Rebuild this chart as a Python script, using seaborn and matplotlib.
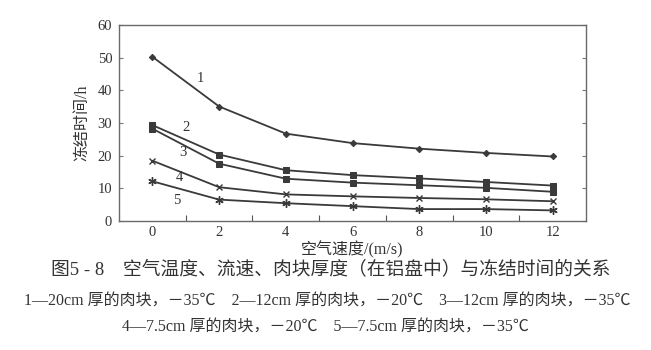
import numpy as np
import pandas as pd
import seaborn as sns
import matplotlib.pyplot as plt
from matplotlib.ticker import FixedLocator

sns.set_style("white")
plt.rcParams['font.family'] = ['Liberation Serif', 'Noto Sans CJK SC']
plt.rcParams['axes.unicode_minus'] = False

# air speed (m/s)
speed = [0, 2, 4, 6, 8, 10, 12]
# freezing time (h) for each case
t1 = [50.2, 35.0, 26.7, 23.8, 22.1, 20.8, 19.7]
t2 = [29.3, 20.3, 15.5, 14.0, 13.0, 11.9, 10.8]
t3 = [28.2, 17.5, 12.9, 11.7, 10.9, 10.1, 8.9]
t4 = [18.4, 10.3, 8.1, 7.5, 7.0, 6.6, 6.0]
t5 = [12.1, 6.5, 5.4, 4.5, 3.6, 3.6, 3.2]
series_names = ["1", "2", "3", "4", "5"]

series = [t1, t2, t3, t4, t5]
df = pd.DataFrame({
    "speed": speed * len(series),
    "time": sum(series, []),
    "case": sum([[n] * len(speed) for n in series_names], []),
})

fig = plt.figure(figsize=(6.51, 3.5), dpi=100)
ax = fig.add_axes([0.183, 0.369, 0.717, 0.560])

ink = "#3a3a3a"
asterisk = (6, 2, 0)
styles = {
    "1": dict(marker="D", markersize=3.2),
    "2": dict(marker="s", markersize=5),
    "3": dict(marker="s", markersize=4.2),
    "4": dict(marker="x", markersize=4.5, markeredgewidth=1.0),
    "5": dict(marker=asterisk, markersize=6, markeredgewidth=1.0),
}
for name in series_names:
    sub = df[df["case"] == name]
    sns.lineplot(data=sub, x="speed", y="time", ax=ax, color=ink,
                 linewidth=1.3, markeredgecolor=ink, markerfacecolor=ink,
                 legend=False, **styles[name])

# curve numbers
label_pos = {"1": (1.45, 43.7), "2": (1.0, 28.6), "3": (0.92, 20.8),
             "4": (0.8, 13.2), "5": (0.74, 6.2)}
for name, (lx, ly) in label_pos.items():
    ax.text(lx, ly, name, fontsize=10.5, color="#333333", ha="center", va="center")

ax.set_xlim(-1, 13)
ax.set_ylim(0, 60)
ax.set_xticks(speed)
ax.set_yticks(range(0, 61, 10))
ax.xaxis.set_minor_locator(FixedLocator([1, 3, 5, 7, 9, 11]))
ax.tick_params(axis="x", which="major", length=0, pad=4, labelsize=10.5, labelcolor="#333333")
ax.tick_params(axis="x", which="minor", direction="in", length=4, width=0.8,
               color="#555555", bottom=True)
ax.tick_params(axis="y", which="major", direction="in", length=3, width=0.8,
               color="#777777", left=True, right=True, labelsize=10.5, labelcolor="#333333", pad=5)
for sp in ax.spines.values():
    sp.set_color("#6a6a6a")
    sp.set_linewidth(1.0)

ax.set_xlabel("空气速度/(m/s)", fontsize=11.5, color="#333333", labelpad=1)
ax.set_ylabel("冻结时间/h", fontsize=11.5, color="#333333", labelpad=5)

fig.text(0.508, 1 - 270 / 350, "图5 - 8　空气温度、流速、肉块厚度（在铝盘中）与冻结时间的关系",
         ha="center", va="center", fontsize=13.5, color="#333333")
fig.text(0.503, 1 - 301 / 350, "1—20cm 厚的肉块，－35℃　2—12cm 厚的肉块，－20℃　3—12cm 厚的肉块，－35℃",
         ha="center", va="center", fontsize=11.5, color="#333333")
fig.text(0.50, 1 - 327 / 350, "4—7.5cm 厚的肉块，－20℃　5—7.5cm 厚的肉块，－35℃",
         ha="center", va="center", fontsize=11.5, color="#333333")

fig.savefig("out.png", dpi=100, facecolor="white")
